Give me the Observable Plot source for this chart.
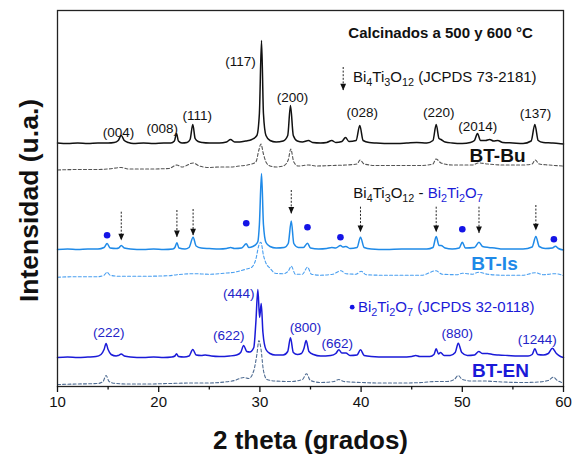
<!DOCTYPE html>
<html><head><meta charset="utf-8">
<script src="https://cdn.jsdelivr.net/npm/d3@7"></script>
<script src="https://cdn.jsdelivr.net/npm/@observablehq/plot@0.6"></script>
<style>body{margin:0;background:#fff;} svg{display:block;}</style>
</head><body><div id="chart"></div>
<script>
// ---------- DATA (2θ in degrees, intensity in arbitrary units above each trace's own baseline) ----------
const majorTicks = [10, 20, 30, 40, 50, 60];
const minorTicks = [15, 25, 35, 45, 55];

const buSolid = [[10,0.5],[11,0],[12,0.5],[13,0],[14,0.5],[15,0.5],[15.6,1],[16.0,3],[16.3,8],[16.6,3],[17.0,1],[17.5,0],[18.5,0.5],[19.5,0],[20.5,0.5],[21.2,0.5],[21.55,2.5],[21.76,10],[21.95,2.5],[22.3,0.5],[22.8,1],[23.1,4],[23.37,19],[23.6,5],[23.9,2],[24.3,1],[25,0.5],[26,0.5],[26.7,1.5],[27.1,4],[27.5,1.5],[28,1.5],[28.6,2.5],[29.2,4],[29.7,8],[29.95,30],[30.16,103],[30.35,30],[30.6,8],[31.0,3],[31.6,1.5],[32.3,2.5],[32.75,8],[33.02,38],[33.3,8],[33.7,2.5],[34.2,1.5],[34.8,3],[35.2,1],[36,0.5],[36.6,1],[37.1,3],[37.5,1],[38.1,2],[38.46,6],[38.8,2],[39.5,3],[39.87,18],[40.2,3],[40.8,1],[41.5,0.5],[43,0],[44.5,0.5],[45.5,1],[46.5,0.5],[47.1,3],[47.42,19],[47.7,5],[47.9,4],[48.3,1.5],[49,0.5],[50,0],[50.8,1],[51.2,3],[51.5,10],[51.8,3],[52.3,3],[52.7,4],[53.1,2.5],[53.5,3],[54,1],[55,0.5],[56,0],[56.8,2.5],[57.17,19],[57.5,3],[58,1],[58.8,0.5],[59.5,0],[60,-0.5]];
const buDashed = [[10,0],[12,0.5],[14,0.5],[15,1],[16.3,2.5],[17,1],[19,1],[21,1.5],[21.8,5],[22.3,3],[23.4,7],[24,4],[25,2.5],[26,3],[27,3],[28,4],[29,5.5],[29.6,8],[29.9,20],[30.1,26],[30.35,16],[30.6,8],[31,4],[31.6,3],[32.3,4],[32.8,10],[33.05,21],[33.35,8],[33.8,4],[34.8,5],[35.5,4],[37,4.5],[38.5,5],[39.6,6],[39.9,10],[40.3,6],[41.5,4.5],[44,4.5],[46,4.5],[47.1,6],[47.4,11],[47.9,7],[49,5],[51,5],[51.6,7],[52.5,6],[54,5],[56,5],[56.9,6],[57.2,10],[57.6,6],[58.5,5],[60,4]];
const isSolid = [[10,0],[11,0.5],[12,0],[13,0.5],[14,0.5],[14.6,2],[14.9,6],[15.2,1.5],[15.8,1],[16.05,1.5],[16.3,4],[16.6,1.5],[17.2,0.5],[18.5,0],[19.5,0.5],[20.5,0],[21.4,0.5],[21.6,2],[21.8,6.7],[22.0,1.5],[22.6,0.5],[23.0,2],[23.4,12.3],[23.7,3.5],[24.2,1.5],[25,1],[26,0.5],[26.7,1],[27.1,2],[27.5,1],[28.2,1.5],[28.65,5.7],[28.9,2],[29.3,3],[29.6,5],[29.8,8],[29.95,25],[30.16,76],[30.35,25],[30.6,7],[31,3],[31.6,1.5],[32.4,2],[32.8,6],[33.1,28.5],[33.35,6],[33.8,2],[34.3,2],[34.7,6.3],[35,1.5],[35.8,0.5],[36.6,1],[37.1,2],[37.5,1.5],[37.96,4],[38.2,2.5],[38.5,3],[38.9,1],[39.6,2],[39.94,12.3],[40.3,2],[41,0.5],[42.5,0],[44,0.5],[45.5,0.5],[46.5,0.5],[47.1,2],[47.42,13],[47.7,4],[47.9,4],[48.3,1.5],[49,0.5],[49.7,1.5],[50.0,7.3],[50.3,1.5],[51.2,2],[51.65,7.3],[52,3],[52.6,2],[53.2,1.5],[54,0.5],[55,0.5],[56,0.5],[56.9,2.5],[57.27,13],[57.6,3],[58.2,1],[58.9,1.5],[59.2,3.3],[59.5,1],[60,-0.5]];
const isDashed = [[10,0],[12,0.5],[14,0.5],[14.6,2],[14.9,5],[15.2,2],[16,1],[17,1],[19,1],[21,1.5],[21.8,2.5],[23.4,3.5],[25,3],[26.5,4],[27.5,5],[28.6,8],[29.2,10],[29.6,18],[29.9,32],[30.1,35],[30.35,22],[30.6,14],[31,9],[31.5,4],[32.3,3.5],[32.8,6],[33.1,11],[33.5,3],[34.2,3],[34.7,10],[35.1,3],[36,2],[37.2,3],[38,6.5],[38.5,3.5],[39.5,3],[40,6],[40.5,2.5],[42,2],[44,2],[46,2],[47.4,6.5],[48,3],[49.5,2.5],[50,4],[51,3],[51.6,5],[52.5,3],[54,2],[56,2],[57.2,4.5],[58,2.5],[59.2,3.5],[60,1.5]];
const enSolid = [[10,0],[11,0.5],[12,0],[13,0.5],[13.8,1],[14.3,3],[14.6,8],[14.8,14],[15.0,8],[15.3,3],[15.8,1.5],[16.0,2],[16.3,3.5],[16.6,1.5],[17.2,0.5],[18.5,0],[19.5,0.5],[20.5,0],[21.3,0.5],[21.6,1.5],[21.76,3.7],[21.95,1],[22.5,0.5],[23.0,1.5],[23.37,8],[23.7,2.5],[24.2,2],[24.6,2.5],[25.2,1.5],[26,1],[27,1.5],[27.7,2.5],[28.1,5],[28.4,12],[28.7,6],[29.0,5.5],[29.4,10],[29.6,35],[29.8,68],[29.97,40],[30.13,54],[30.3,25],[30.6,8],[31.0,4],[31.5,2.5],[32.3,2.5],[32.75,6],[33.02,19.7],[33.3,5],[33.7,3],[34.1,4],[34.35,9],[34.57,17],[34.85,6],[35.3,3],[36,1.5],[37,2],[37.5,4],[37.8,7.7],[38.1,4.5],[38.5,4.5],[38.9,2],[39.6,2.5],[39.94,7.7],[40.3,2],[41,1],[42.5,0.5],[44,0.5],[45,1],[45.4,2],[45.8,1],[46.8,1],[47.2,3],[47.42,8.7],[47.65,3.5],[47.85,5],[48.2,2],[48.8,2],[49.3,5],[49.6,14.3],[49.95,5],[50.5,2],[51.2,2.5],[51.63,6],[52,4],[52.5,4],[53,3],[53.6,2.5],[54.5,2],[55.5,1.5],[56.5,1.5],[56.9,3],[57.17,8.7],[57.45,3],[58,2.5],[58.5,4],[58.9,9.3],[59.3,4],[59.7,1],[60,0]];
const enDashed = [[10,0],[12,0.5],[14,1],[14.5,3],[14.8,9],[15.1,3],[15.8,1],[17,0.5],[19,0.5],[21,1],[23.4,1.5],[25,1.5],[26.5,2.5],[27.5,4],[28.4,7],[28.9,6],[29.4,14],[29.7,30],[29.9,44],[30.1,36],[30.35,14],[30.7,5],[31.5,3.5],[33,3],[34.2,5],[34.6,10.7],[35,4],[36,2],[37.3,3],[37.8,5],[38.3,3],[40,2],[42,1.5],[44,1.5],[46,2],[47.4,3],[48.5,3],[49.2,5],[49.6,9],[50,5],[51,3.5],[52,3.5],[54,2.5],[56,2],[57.5,2.5],[58.5,4],[59,7.3],[59.4,4],[60,1.5]];

// vertical offsets of the stacked patterns
const traceNames   = ["BT-Bu", "BT-Bu", "BT-Is", "BT-Is", "BT-EN", "BT-EN"];
const traceKinds   = ["solid", "dashed", "solid", "dashed", "solid", "dashed"];
const traceOffsets = [243, 216.5, 137, 109.3, 29, 2];
const traceData    = [buSolid, buDashed, isSolid, isDashed, enSolid, enDashed];

// Miller index labels
const hklBu = ["(004)","(008)","(111)","(117)","(200)","(028)","(220)","(2014)","(137)"];
const hklBuX = [16.03, 20.35, 23.8, 28.08, 33.22, 40.11, 47.68, 51.53, 57.23];
const hklBuY = [254, 258, 271, 325, 289, 274.3, 274.3, 260, 272.7];
const hklEn = ["(222)","(622)","(444)","(800)","(662)","(880)","(1244)"];
const hklEnX = [15.07, 26.93, 27.92, 34.5, 37.64, 49.5, 57.4];
const hklEnY = [54.3, 51, 93, 59.3, 42.7, 53.3, 46.7];

// Bi4Ti3O12 markers (dotted arrows) on BT-Is, last one is the legend arrow
const arrowX   = [16.3, 21.8, 23.4, 33.1, 39.94, 47.42, 51.65, 57.27, 38.23];
const arrowTop = [174.3, 176, 177, 196, 179.3, 179.3, 179.3, 181, 319];
const arrowTip = [146, 149.3, 151, 172.7, 154.3, 154.3, 153.3, 156, 296];
// Bi2Ti2O7 markers (dots) on BT-Is
const dotX = [14.9, 28.65, 34.7, 37.96, 50.0, 59.05];
const dotY = [151.3, 163.3, 159.3, 149.3, 157.3, 147.3];

const sampleLabels = ["BT-Bu", "BT-Is", "BT-EN"];
const sampleX = [53.48, 53.18, 53.77];
const sampleY = [231, 122.5, 16];

// ---------- STYLES ----------
const FONT = "'Liberation Sans', Arial, Helvetica, sans-serif";
const colors = {"BT-Bu": "#111111", "BT-Is": "#1f8ae8", "BT-EN": "#1a1ad8"};
const dashedColors = {"BT-Bu": "#555555", "BT-Is": "#4a9ff0", "BT-EN": "#4f6c92"};
const DARK = "#1a1ad8";

const rows = [];
traceData.forEach((arr, i) => arr.forEach(([t, v]) => rows.push({
  name: traceNames[i], kind: traceKinds[i], key: traceNames[i] + traceKinds[i], t, v: v + traceOffsets[i]
})));
const arrows = arrowX.map((x, i) => ({x, top: arrowTop[i], tip: arrowTip[i]}));
const dots = dotX.map((x, i) => ({x, y: dotY[i]}));

const downTri = {draw(ctx, size) { const s = Math.sqrt(size / Math.PI); ctx.moveTo(-s * 0.85, -s * 2); ctx.lineTo(s * 0.85, -s * 2); ctx.lineTo(0, 0); ctx.closePath(); }};

const lineMarks = traceNames.map((n, i) => Plot.line(rows.filter(d => d.key === n + traceKinds[i]), {
  x: "t", y: "v", curve: "monotone-x",
  stroke: traceKinds[i] === "solid" ? colors[n] : dashedColors[n],
  strokeWidth: traceKinds[i] === "solid" ? 1.5 : 1.1,
  strokeDasharray: traceKinds[i] === "solid" ? null : "3,2.2"
}));
// dashed first, solid on top
const orderedLines = [1, 3, 5, 0, 2, 4].map(i => lineMarks[i]);

const chart = Plot.plot({
  width: 580, height: 455,
  marginLeft: 57, marginRight: 17, marginTop: 10, marginBottom: 69,
  style: {fontFamily: FONT, background: "#fff", color: "#111"},
  x: {domain: [10, 60], label: null},
  y: {domain: [0, 376], axis: null},
  marks: [
    ...orderedLines,
    Plot.ruleX(arrows, {x: "x", y1: "top", y2: "tip", stroke: "#222", strokeWidth: 1, strokeDasharray: "2,1.6"}),
    Plot.dot(arrows, {x: "x", y: "tip", symbol: downTri, r: 3.4, fill: "#111", stroke: "none"}),
    Plot.dot(dots, {x: "x", y: "y", r: 3.3, fill: "#1414e6", stroke: "none"}),
    Plot.dot([{x: 39.12, y: 79.3}], {x: "x", y: "y", r: 2.4, fill: "#1414e6", stroke: "none"}),
    Plot.text(hklBu, {x: (d, i) => hklBuX[i], y: (d, i) => hklBuY[i], text: d => d, fontSize: 13.5, fill: "#111"}),
    Plot.text(hklEn, {x: (d, i) => hklEnX[i], y: (d, i) => hklEnY[i], text: d => d, fontSize: 13.5, fill: "#2323c8"}),
    Plot.text(sampleLabels, {x: (d, i) => sampleX[i], y: (d, i) => sampleY[i], text: d => d, fontSize: 19, fontWeight: "bold", fill: d => colors[d]}),
    Plot.text(["Calcinados a 500 y 600 °C"], {x: 47.85, y: 353, text: d => d, fontSize: 15, fontWeight: "bold", fill: "#111"}),
    Plot.text(["2 theta (grados)"], {frameAnchor: "bottom", dy: 54, lineAnchor: "middle", textAnchor: "middle", text: d => d, fontSize: 26, fontWeight: "bold", fill: "#111"}),
    Plot.text(["Intensidad (u.a.)"], {frameAnchor: "left", dx: -28, dy: 2, rotate: -90, textAnchor: "middle", lineAnchor: "middle", text: d => d, fontSize: 26.5, fontWeight: "bold", fill: "#111"}),
    Plot.frame({stroke: "#222", strokeWidth: 1.3}),
    Plot.axisX({ticks: majorTicks, tickSize: 6, tickPadding: 4, fontSize: 15, strokeWidth: 1.3, label: null}),
    Plot.axisX({ticks: minorTicks, tickSize: 3.5, text: null, strokeWidth: 1.3, label: null})
  ]
});
document.getElementById("chart").appendChild(chart);

// chemical formulas with subscripts (real SVG text with tspans), positioned with the plot's scales
const xs = chart.scale("x"), ys = chart.scale("y");
function formula(x, y, parts, size) {
  const t = d3.select(chart).append("text")
    .attr("x", xs.apply(x)).attr("y", ys.apply(y) + size * 0.36)
    .attr("text-anchor", "start")
    .attr("font-family", FONT).attr("font-size", size);
  let shifted = false;
  for (const p of parts) {
    const sp = t.append("tspan").text(p.s).attr("fill", p.c || "#111");
    if (p.sub) { sp.attr("font-size", size * 0.72); if (!shifted) sp.attr("dy", 4); shifted = true; }
    else { if (shifted) sp.attr("dy", -4); shifted = false; }
  }
}
const BIT = [{s: "Bi"}, {s: "4", sub: true}, {s: "Ti"}, {s: "3", sub: true}, {s: "O"}, {s: "12", sub: true}];
const BTO = c => [{s: "Bi", c}, {s: "2", sub: true, c}, {s: "Ti", c}, {s: "2", sub: true, c}, {s: "O", c}, {s: "7", sub: true, c}];
formula(39.25, 309, [...BIT, {s: " (JCPDS 73-2181)"}], 15);
formula(39.28, 193, [...BIT, {s: " - "}, ...BTO(DARK)], 15);
formula(39.74, 79.3, [...BTO(DARK), {s: " (JCPDS 32-0118)", c: DARK}], 15);
</script>
</body></html>
